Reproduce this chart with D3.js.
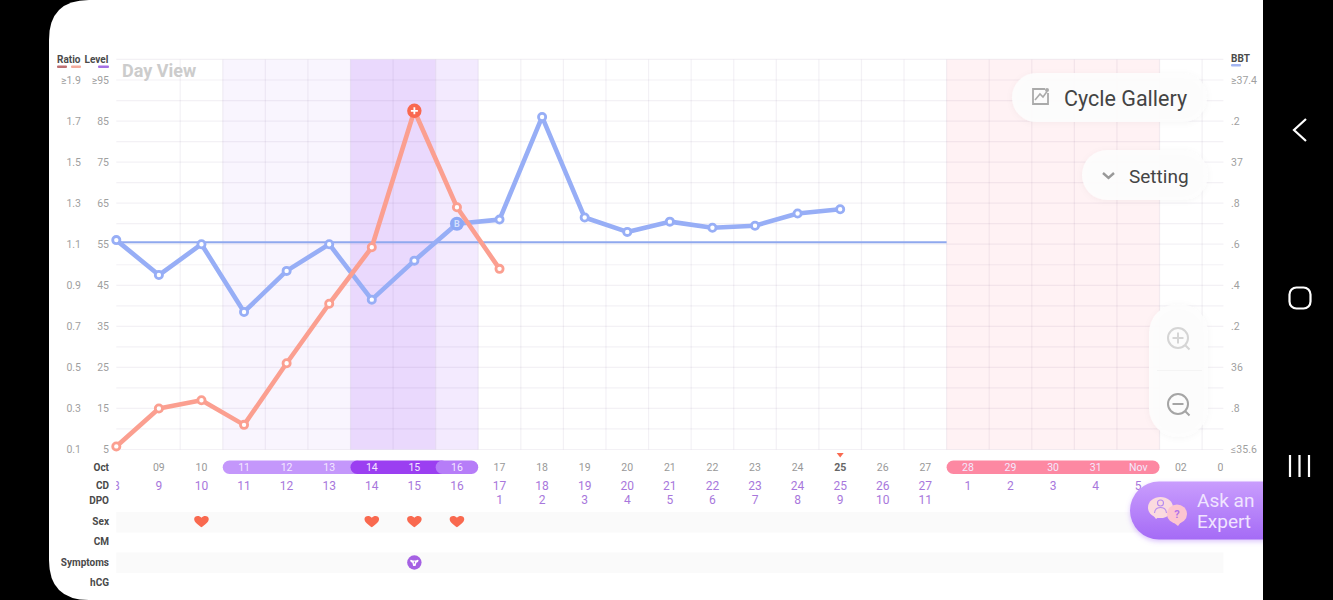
<!DOCTYPE html>
<html>
<head>
<meta charset="utf-8">
<script src="https://cdnjs.cloudflare.com/ajax/libs/d3/7.8.5/d3.min.js"></script>
<style>
  html, body { margin: 0; padding: 0; background: #000; overflow: hidden; }
  text { font-family: Roboto, sans-serif; }
  .axis text { font-size: 10.5px; fill: #9f9f9f; }
  .rowlabel { font-size: 10px; font-weight: 700; fill: #4a4a4a; text-anchor: end; }
</style>
</head>
<body>
<div id="container"></div>
<script>
const W = 1333, H = 600;

// Days are counted from the cycle's first visible column (Oct 08)
const days = d3.range(8, 35);
const dateLabels = ['','09','10','11','12','13','14','15','16','17','18','19','20','21','22','23','24','25','26','27','28','29','30','31','Nov','02','03'];
const cdLabels = ['8','9','10','11','12','13','14','15','16','17','18','19','20','21','22','23','24','25','26','27','1','2','3','4','5'];
const dpoLabels = ['1','2','3','4','5','6','7','8','9','10','11'];
const dpoStart = 17;

const ratioDays = [8, 9, 10, 11, 12, 13, 14, 15, 16, 17];
const ratioValues = [0.115, 0.30, 0.34, 0.22, 0.52, 0.81, 1.085, 1.75, 1.28, 0.98];
const bbtDays = [8, 9, 10, 11, 12, 13, 14, 15, 16, 17, 18, 19, 20, 21, 22, 23, 24, 25];
const bbtValues = [36.62, 36.45, 36.60, 36.27, 36.47, 36.60, 36.33, 36.52, 36.70, 36.72, 37.22, 36.73, 36.66, 36.71, 36.68, 36.69, 36.75, 36.77];
const coverline = 36.61;
const coverlineEnd = 27.5;

const ratioTicks = [0.1, 0.3, 0.5, 0.7, 0.9, 1.1, 1.3, 1.5, 1.7, 1.9];
const ratioTickLabels = ['0.1','0.3','0.5','0.7','0.9','1.1','1.3','1.5','1.7','≥1.9'];
const levelTicks = [5, 15, 25, 35, 45, 55, 65, 75, 85, 95];
const levelTickLabels = ['5','15','25','35','45','55','65','75','85','≥95'];
const bbtTicks = [35.6, 35.8, 36, 36.2, 36.4, 36.6, 36.8, 37, 37.2, 37.4];
const bbtTickLabels = ['≤35.6','.8','36','.2','.4','.6','.8','37','.2','≥37.4'];

const sexDays = [10, 14, 15, 16];
const symptomDays = [15];
const peakDay = 15, baselineDay = 16, todayDay = 25;

// [first day, last day, band colour, pill colour]
const fertileBands = [
  [11, 13, '#f9f5fe', '#c497fb'],
  [14, 15, '#ead9fd', '#9b3ff1'],
  [16, 16, '#f3eafe', '#b67df8']
];
const periodBand = [28, 32, '#fff2f4', '#fd88a2'];
const rowLabels = [['Oct', 467], ['CD', 485], ['DPO', 500], ['Sex', 521], ['CM', 541], ['Symptoms', 562], ['hCG', 582]];

const x = d3.scaleLinear().domain([8, 34]).range([116.3, 1223.4]);
const yLevel = d3.scaleLinear().domain([5, 95]).range([449.5, 80]);
const yRatio = d3.scaleLinear().domain([0.1, 1.9]).range([449.5, 80]);
const yBbt = d3.scaleLinear().domain([35.6, 37.4]).range([449.5, 80]);
const plotTop = yLevel(100), plotBottom = yLevel(5);

const svg = d3.select('#container').append('svg')
  .attr('width', W).attr('height', H)
  .style('display', 'block');

const defs = svg.append('defs');
defs.append('clipPath').attr('id', 'rowClip').append('rect')
  .attr('x', x(8)).attr('y', 455).attr('width', x(34) - x(8)).attr('height', 60);
defs.append('clipPath').attr('id', 'screenClip').append('rect')
  .attr('x', 49).attr('y', 0).attr('width', 1214).attr('height', 600);
const grad = defs.append('linearGradient').attr('id', 'askGrad').attr('x1', 0).attr('x2', 0).attr('y1', 0).attr('y2', 1);
grad.append('stop').attr('offset', 0).attr('stop-color', '#c99dfd');
grad.append('stop').attr('offset', 1).attr('stop-color', '#a56bf6');
const soft = defs.append('filter').attr('id', 'soft').attr('x', '-20%').attr('y', '-30%').attr('width', '140%').attr('height', '160%');
soft.append('feDropShadow').attr('dx', 0).attr('dy', 1).attr('stdDeviation', 3).attr('flood-color', '#000').attr('flood-opacity', 0.04);
const glow = defs.append('filter').attr('id', 'glow').attr('x', '-20%').attr('y', '-30%').attr('width', '140%').attr('height', '160%');
glow.append('feDropShadow').attr('dx', 0).attr('dy', 2).attr('stdDeviation', 2.5).attr('flood-color', '#a56bf6').attr('flood-opacity', 0.4);

// Phone screen: black bezel, rounded on the left
svg.append('path')
  .attr('d', 'M49,40 Q49,0 89,0 L1263,0 L1263,600 L89,600 Q49,600 49,560 Z')
  .attr('fill', '#fff');

// Shaded phases
const bands = svg.append('g');
bands.selectAll('rect').data(fertileBands.concat([periodBand])).join('rect')
  .attr('x', d => x(d[0] - 0.5))
  .attr('y', plotTop)
  .attr('width', d => x(d[1] + 0.5) - x(d[0] - 0.5))
  .attr('height', plotBottom - plotTop)
  .attr('fill', d => d[2]);

// Grid
const grid = svg.append('g').attr('stroke', 'rgba(80,50,100,0.065)').attr('stroke-width', 1.2);
grid.selectAll('.h').data(d3.range(5, 101, 5)).join('line').attr('class', 'h')
  .attr('x1', x(8)).attr('x2', x(34))
  .attr('y1', d => yLevel(d)).attr('y2', d => yLevel(d));
grid.selectAll('.v').data(d3.range(9.5, 33.6, 1)).join('line').attr('class', 'v')
  .attr('x1', d => x(d)).attr('x2', d => x(d))
  .attr('y1', plotTop).attr('y2', plotBottom);

// Axes
function yAxis(axis, tx, values, labels) {
  const g = svg.append('g').attr('class', 'axis')
    .attr('transform', `translate(${tx},0)`)
    .call(axis.tickValues(values).tickSize(0).tickPadding(0)
      .tickFormat((d, i) => labels[i]));
  g.select('.domain').remove();
  return g;
}
yAxis(d3.axisLeft(yRatio), 81, ratioTicks, ratioTickLabels);
yAxis(d3.axisLeft(yLevel), 109, levelTicks, levelTickLabels);
yAxis(d3.axisRight(yBbt), 1231, bbtTicks, bbtTickLabels);

// Legend headers
const legend = svg.append('g').attr('font-size', 10).attr('font-weight', 700).attr('fill', '#4a4a4a');
legend.append('text').attr('x', 57).attr('y', 63).text('Ratio');
legend.append('text').attr('x', 84.5).attr('y', 63).text('Level');
legend.append('text').attr('x', 1231).attr('y', 62).text('BBT');
[[57, 67, 65.5, '#bd6f72'], [71, 81, 65.5, '#f3ab9c'], [98, 109, 65.5, '#a571e3'], [1231, 1241, 64, '#a3b5f0']].forEach(d => {
  legend.append('rect').attr('x', d[0]).attr('y', d[2]).attr('width', d[1] - d[0]).attr('height', 2.5).attr('rx', 1).attr('fill', d[3]);
});

svg.append('text').attr('x', 122).attr('y', 77)
  .attr('font-size', 18).attr('font-weight', 700).attr('fill', '#cccccc').text('Day View');

// Zebra rows
svg.append('g').selectAll('rect').data([512, 552.5]).join('rect')
  .attr('x', x(8)).attr('y', d => d)
  .attr('width', x(34) - x(8)).attr('height', 20.5)
  .attr('fill', '#fafafa');

// Series
const bbtColor = '#97aef6', ratioColor = '#fb9f90';
svg.append('line')
  .attr('x1', x(8)).attr('x2', x(coverlineEnd))
  .attr('y1', yBbt(coverline)).attr('y2', yBbt(coverline))
  .attr('stroke', '#8fa8ee').attr('stroke-width', 2);

function drawSeries(xs, ys, yScale, color) {
  const pts = xs.map((d, i) => [x(d), yScale(ys[i])]);
  svg.append('path').datum(pts)
    .attr('d', d3.line())
    .attr('fill', 'none').attr('stroke', color)
    .attr('stroke-width', 4.6).attr('stroke-linejoin', 'round');
  svg.append('g').selectAll('circle').data(pts).join('circle')
    .attr('cx', d => d[0]).attr('cy', d => d[1]).attr('r', 3.6)
    .attr('fill', '#fff').attr('stroke', color).attr('stroke-width', 2.8);
}
drawSeries(bbtDays, bbtValues, yBbt, bbtColor);
drawSeries(ratioDays, ratioValues, yRatio, ratioColor);

// Baseline marker
const bx = x(baselineDay), by = yBbt(bbtValues[bbtDays.indexOf(baselineDay)]);
svg.append('circle').attr('cx', bx).attr('cy', by).attr('r', 7).attr('fill', '#8da8f5');
svg.append('text').attr('x', bx).attr('y', by + 3.4).attr('text-anchor', 'middle')
  .attr('font-size', 9).attr('font-weight', 700).attr('fill', '#d5e0fd').text('B');

// Peak marker
const px = x(peakDay), py = yRatio(ratioValues[ratioDays.indexOf(peakDay)]);
svg.append('circle').attr('cx', px).attr('cy', py).attr('r', 7.2).attr('fill', '#f9694f');
svg.append('path').attr('d', `M${px - 3.5},${py} h7 M${px},${py - 3.5} v7`)
  .attr('stroke', '#fff').attr('stroke-width', 1.8);

// Row labels
svg.append('g').selectAll('text').data(rowLabels).join('text')
  .attr('class', 'rowlabel').attr('x', 109).attr('y', d => d[1] + 3.5).text(d => d[0]);

// Date row
const rows = svg.append('g').attr('clip-path', 'url(#rowClip)');
function pill(b, over) {
  rows.append('rect')
    .attr('x', x(b[0] - 0.5)).attr('y', 460.5)
    .attr('width', x(b[1] + 0.5 + (over || 0)) - x(b[0] - 0.5)).attr('height', 13.5)
    .attr('rx', 6.7).attr('fill', b[3]);
}
pill(fertileBands[0], 0.3);
pill(fertileBands[1], 0.3);
pill(fertileBands[2]);
pill(periodBand);

const inPill = d => fertileBands.concat([periodBand]).some(b => d >= b[0] && d <= b[1]);
rows.selectAll('.date').data(days).join('text').attr('class', 'date')
  .attr('x', d => x(d)).attr('y', 470.5)
  .attr('text-anchor', 'middle').attr('font-size', 10.5)
  .attr('font-weight', d => d === todayDay ? 700 : 400)
  .attr('fill', d => inPill(d) ? '#f3e8ff' : d === todayDay ? '#666' : '#999')
  .text((d, i) => dateLabels[i]);

rows.selectAll('.cd').data(cdLabels).join('text').attr('class', 'cd')
  .attr('x', (d, i) => x(8 + i)).attr('y', 489.5)
  .attr('text-anchor', 'middle').attr('font-size', 12).attr('fill', '#a877dc')
  .text(d => d);

svg.append('g').selectAll('text').data(dpoLabels).join('text')
  .attr('x', (d, i) => x(dpoStart + i)).attr('y', 504)
  .attr('text-anchor', 'middle').attr('font-size', 12).attr('fill', '#a877dc')
  .text(d => d);

// Today marker
svg.append('path')
  .attr('d', `M${x(todayDay) - 3.5},453 h7 l-3.5,4.5 Z`)
  .attr('fill', '#f9694f');

// Sex hearts
svg.append('g').selectAll('path').data(sexDays).join('path')
  .attr('transform', d => `translate(${x(d)},521)`)
  .attr('d', 'M0,6.3 C-3,3.8 -7.3,1.4 -7.3,-2.1 C-7.3,-5.2 -2.4,-6.3 0,-3.2 C2.4,-6.3 7.3,-5.2 7.3,-2.1 C7.3,1.4 3,3.8 0,6.3 Z')
  .attr('fill', '#f9694f');

// Symptom badge
const sym = svg.append('g').selectAll('g').data(symptomDays).join('g')
  .attr('transform', d => `translate(${x(d)},562.5)`);
sym.append('circle').attr('r', 7.2).attr('fill', '#a561e3');
sym.append('path').attr('d', 'M-4.2,-2 Q-4,-3 -2.8,-2.6 Q0,-1.6 2.8,-2.6 Q4,-3 4.2,-2 Q4,0 2,0.2 L1.2,3.4 H-1.2 L-2,0.2 Q-4,0 -4.2,-2 Z').attr('fill', '#fff');
sym.append('path').attr('d', 'M0,-1 V1').attr('stroke', '#a561e3').attr('stroke-width', 1);

// Floating buttons
const ui = svg.append('g').attr('clip-path', 'url(#screenClip)');
function floatBox(bx0, by0, bw, bh, r) {
  ui.append('rect').attr('x', bx0).attr('y', by0).attr('width', bw).attr('height', bh).attr('rx', r)
    .attr('fill', 'rgba(253,253,253,0.94)').attr('filter', 'url(#soft)');
}
floatBox(1012, 73, 195, 49, 24.5);
ui.append('text').attr('x', 1064).attr('y', 105.5).attr('font-size', 21.5).attr('fill', '#444').text('Cycle Gallery');
ui.append('path').attr('d', 'M1045,89 H1033 V104 H1048 V93').attr('fill', 'none').attr('stroke', '#aaa').attr('stroke-width', 1.8);
ui.append('path').attr('d', 'M1035,100 L1040,94 L1043,97 L1047,91.5').attr('fill', 'none').attr('stroke', '#aaa').attr('stroke-width', 1.6);
ui.append('circle').attr('cx', 1047).attr('cy', 90).attr('r', 2).attr('fill', '#aaa');

floatBox(1082, 150, 126, 50, 25);
ui.append('text').attr('x', 1129).attr('y', 182.5).attr('font-size', 19).attr('fill', '#444').text('Setting');
ui.append('path').attr('d', 'M1103,173 L1108.5,178 L1114,173').attr('fill', 'none').attr('stroke', '#999').attr('stroke-width', 2.4);

floatBox(1149, 304, 59, 133, 29);
ui.append('line').attr('x1', 1157).attr('x2', 1202).attr('y1', 370.5).attr('y2', 370.5).attr('stroke', '#f4f4f4');
[[338, '#d5d5d5', true], [404, '#a5a5a5', false]].forEach(d => {
  ui.append('circle').attr('cx', 1178).attr('cy', d[0]).attr('r', 10).attr('fill', 'none').attr('stroke', d[1]).attr('stroke-width', 2);
  ui.append('path').attr('d', `M1185,${d[0] + 7} l4.5,4.5 M1172.5,${d[0]} h11` + (d[2] ? ` M1178,${d[0] - 5.5} v11` : ''))
    .attr('stroke', d[1]).attr('stroke-width', 2).attr('fill', 'none');
});

// Ask an Expert
ui.append('rect').attr('x', 1130).attr('y', 481.5).attr('width', 190).attr('height', 58).attr('rx', 29)
  .attr('fill', 'url(#askGrad)').attr('filter', 'url(#glow)');
ui.append('text').attr('x', 1197).attr('y', 507).attr('font-size', 19).attr('fill', '#f0e4ff').text('Ask an');
ui.append('text').attr('x', 1197).attr('y', 528).attr('font-size', 19).attr('fill', '#f0e4ff').text('Expert');
// left bubble with a person, right bubble with a question mark
ui.append('ellipse').attr('cx', 1160.5).attr('cy', 507.5).attr('rx', 12.5).attr('ry', 10.5).attr('fill', '#fbdadf');
ui.append('path').attr('d', 'M1153,515 L1156,519 L1160,516 Z').attr('fill', '#fbdadf');
ui.append('circle').attr('cx', 1160.5).attr('cy', 503).attr('r', 3).attr('fill', 'none').attr('stroke', '#b78cf0').attr('stroke-width', 1.1);
ui.append('path').attr('d', 'M1154.5,513 Q1155,507.5 1160.5,507.5 Q1166,507.5 1166.5,513').attr('fill', 'none').attr('stroke', '#b78cf0').attr('stroke-width', 1.1);
ui.append('ellipse').attr('cx', 1177).attr('cy', 514).attr('rx', 10).attr('ry', 9.5).attr('fill', '#fdc5d0');
ui.append('path').attr('d', 'M1173,522 L1178,526 L1181,522 Z').attr('fill', '#fdc5d0');
ui.append('text').attr('x', 1177).attr('y', 518).attr('text-anchor', 'middle').attr('font-size', 11).attr('font-weight', 700).attr('fill', '#b573e8').text('?');

// Android navigation keys
const nav = svg.append('g').attr('fill', 'none').attr('stroke', '#fff').attr('stroke-width', 2.2);
nav.append('path').attr('d', 'M1306,119 L1294,130 L1306,141');
nav.append('rect').attr('x', 1289.5).attr('y', 287.5).attr('width', 21).attr('height', 21).attr('rx', 7);
nav.append('path').attr('d', 'M1290,455 V477 M1299.5,455 V477 M1309,455 V477');
</script>
</body>
</html>
